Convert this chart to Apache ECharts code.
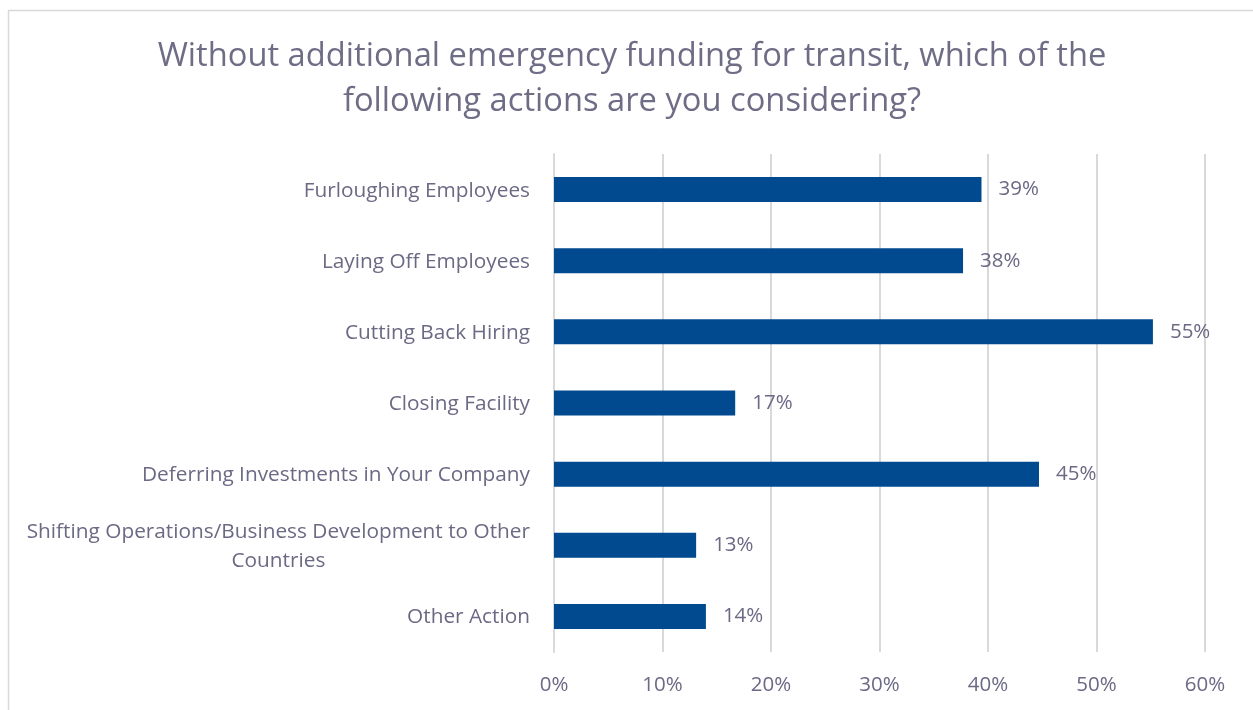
<!DOCTYPE html>
<html>
<head>
<meta charset="utf-8">
<script src="https://cdn.jsdelivr.net/npm/echarts@6/dist/echarts.min.js"></script>
<style>
  html, body { margin: 0; padding: 0; background: #fff; }
  #chart { width: 1253px; height: 710px; }
</style>
</head>
<body>
<div id="chart"></div>
<script>
// Survey responses: share of respondents considering each action
const categories = [
  'Furloughing Employees',
  'Laying Off Employees',
  'Cutting Back Hiring',
  'Closing Facility',
  'Deferring Investments in Your Company',
  'Shifting Operations/Business Development to Other\nCountries',
  'Other Action'
];
const shares = [39.4, 37.7, 55.2, 16.7, 44.7, 13.1, 14.0];
const tickValues = [0, 10, 20, 30, 40, 50, 60];

const textColor = '#6b6984';
const fontFamily = '"Open Sans", "Noto Sans", sans-serif';

const chart = echarts.init(document.getElementById('chart'));
chart.setOption({
  animation: false,
  backgroundColor: '#ffffff',
  graphic: [{
    type: 'rect',
    shape: { x: 8.5, y: 10.5, width: 1300, height: 760 },
    style: { fill: 'none', stroke: '#d9d9d9', lineWidth: 1.5 },
    silent: true,
    z: -1
  }],
  title: {
    text: 'Without additional emergency funding for transit, which of the\nfollowing actions are you considering?',
    left: 627,
    top: 29,
    textAlign: 'center',
    textStyle: {
      color: '#6f6d86',
      fontFamily: fontFamily,
      fontWeight: 'normal',
      fontSize: 32.7,
      lineHeight: 45
    }
  },
  grid: { left: 554, right: 48, top: 154, bottom: 58, containLabel: false },
  xAxis: {
    type: 'value',
    min: tickValues[0],
    max: tickValues[tickValues.length - 1],
    interval: 10,
    axisLine: { show: false },
    axisTick: { show: false },
    splitLine: { show: true, lineStyle: { color: '#d9d9d9', width: 2 } },
    axisLabel: {
      color: textColor,
      fontFamily: fontFamily,
      fontSize: 20.5,
      margin: 23,
      formatter: v => v + '%'
    }
  },
  yAxis: {
    type: 'category',
    inverse: true,
    data: categories,
    axisLine: { show: true, lineStyle: { color: '#d9d9d9', width: 2 } },
    axisTick: { show: false },
    axisLabel: {
      color: textColor,
      fontFamily: fontFamily,
      fontSize: 20.8,
      margin: 24,
      lineHeight: 29,
      formatter: v => '{c|' + v + '}',
      rich: {
        c: {
          align: 'center',
          color: textColor,
          fontFamily: fontFamily,
          fontSize: 20.8,
          lineHeight: 29,
          padding: [2, 0, 0, 0]
        }
      }
    }
  },
  series: [{
    type: 'bar',
    data: shares,
    barWidth: 25,
    itemStyle: { color: '#014a8f' },
    label: {
      show: true,
      position: 'right',
      distance: 17,
      color: textColor,
      fontFamily: fontFamily,
      fontSize: 20.5,
      formatter: p => Math.round(p.value) + '%'
    }
  }]
});
</script>
</body>
</html>
